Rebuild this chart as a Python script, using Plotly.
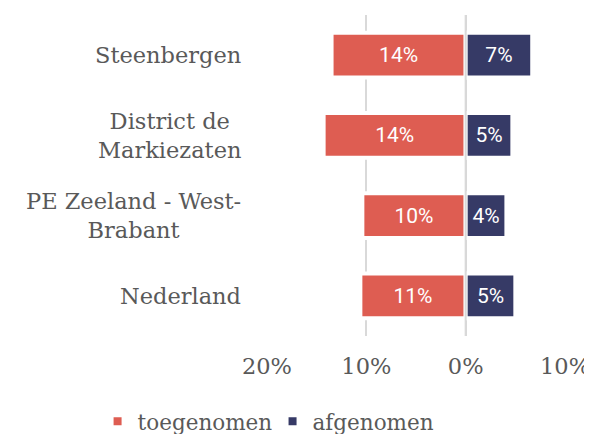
import plotly.graph_objects as go

categories = ["Steenbergen", "District de<br>Markiezaten", "PE Zeeland - West-<br>Brabant", "Nederland"]
toegenomen = [13.5, 14.3, 10.4, 10.6]
afgenomen = [6.7, 4.7, 4.1, 5.0]
toegenomen_labels = ["14%", "14%", "10%", "11%"]
afgenomen_labels = ["7%", "5%", "4%", "5%"]
tick_vals = [-20, -10, 0, 10]
tick_text = ["20%", "10%", "0%", "10%"]

RED = "#DE5D52"
NAVY = "#363A66"
GRID = "#D9D9D9"
SERIF = "DejaVu Serif"
FS = 22.5
LFS = 21.5

fig = go.Figure()
fig.add_trace(go.Bar(
    y=categories, x=[-v for v in toegenomen], orientation="h", name="toegenomen",
    marker=dict(color=RED, line=dict(color="white", width=4)),
    text=toegenomen_labels, textposition="inside", insidetextanchor="middle",
    textfont=dict(family="Roboto", size=21, color="white"),
    legend="legend",
))
fig.add_trace(go.Bar(
    y=categories, x=afgenomen, orientation="h", name="afgenomen",
    marker=dict(color=NAVY, line=dict(color="white", width=4)),
    text=afgenomen_labels, textposition="inside", insidetextanchor="middle",
    textfont=dict(family="Roboto", size=21, color="white"),
    legend="legend2",
))
fig.add_shape(type="line", x0=0, x1=0, y0=0, y1=1, xref="x", yref="paper",
              line=dict(color=GRID, width=2), layer="above")

# category labels: block right-aligned, lines centred (as in the reference)
for cat in categories:
    fig.add_annotation(x=0, xref="paper", y=cat, yref="y", text=cat,
                       xanchor="right", yanchor="middle", align="center",
                       xshift=-23, showarrow=False,
                       font=dict(family=SERIF, size=FS, color="#595959"))

legend_common = dict(orientation="h", xanchor="left", xref="container",
                     yref="container", y=0.03, yanchor="middle",
                     font=dict(family=SERIF, size=LFS, color="#595959"),
                     bgcolor="rgba(0,0,0,0)")

fig.update_layout(
    width=584, height=426,
    margin=dict(l=258, r=26, t=7, b=98),
    paper_bgcolor="white", plot_bgcolor="white",
    barmode="relative", bargap=0.44,
    showlegend=True,
    legend=dict(x=0.1534, **legend_common),
    legend2=dict(x=0.453, **legend_common),
    font=dict(family=SERIF, size=FS, color="#595959"),
)
fig.update_xaxes(range=[-20.1, 10.1], tickvals=tick_vals, ticktext=tick_text,
                 showgrid=True, gridcolor=GRID, gridwidth=2, zeroline=False,
                 ticks="", ticklabelstandoff=14, automargin=False,
                 tickfont=dict(family=SERIF, size=FS, color="#595959"))
fig.update_yaxes(autorange="reversed", showgrid=False, zeroline=False, ticks="",
                 showticklabels=False, automargin=False)

fig.write_html("out.html")
